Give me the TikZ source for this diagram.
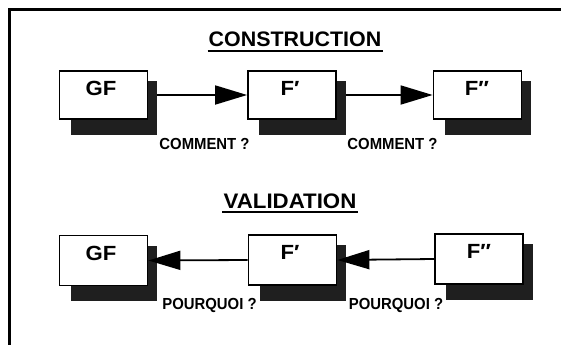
\documentclass[tikz,border=0pt]{standalone}
\usepackage{fontspec}
\setmainfont{Liberation Sans}
\usepackage{graphicx}
\usetikzlibrary{arrows.meta,calc,backgrounds}

\tikzset{
  funcbox/.style={draw=black, line width=1.8pt, fill=white, minimum width=88pt,
    minimum height=48pt, inner sep=0pt},
  boxlabel/.style={font=\bfseries\fontsize{20.5}{20.5}\selectfont, inner sep=0pt, anchor=base},
  heading/.style={font=\bfseries\fontsize{21}{21}\selectfont, inner sep=0pt, anchor=base},
  question/.style={font=\bfseries\fontsize{16}{16}\selectfont, inner sep=0pt},
  flow/.style={line width=1.8pt, -{Triangle[length=32pt,width=19pt]}},
  shadowfill/.style={fill=black!88},
}

\newcommand{\dropshadow}[1]{%
  \fill[shadowfill] ($(#1.north east)+(-1,11)$) rectangle ($(#1.south east)+(9,15)$);
  \fill[shadowfill] ($(#1.south west)+(12,-1)$) rectangle ($(#1.south east)+(9,15)$);
}

\begin{document}
\begin{tikzpicture}[x=1pt,y=-1pt]
  \useasboundingbox (0,0) rectangle (561,345);

  % frame
  \draw[line width=3pt] (561,10) -- (9.5,10) -- (9.5,345);

  % headings
  \node[heading] (hcons) at (295,47) {\scalebox{1.02}[1]{CONSTRUCTION}};
  \draw[line width=1.8pt] ($(hcons.base west)+(-1,4)$) -- ($(hcons.base east)+(2,4)$);
  \node[heading] (hvalid) at (290,208) {\scalebox{1.06}[1]{VALIDATION}};
  \draw[line width=1.8pt] ($(hvalid.base west)+(-1,4)$) -- ($(hvalid.base east)+(1,4)$);

  % construction row
  \node[funcbox] (cgf) at (103.5,95) {};
  \node[funcbox] (cf1) at (292,95) {};
  \node[funcbox] (cf2) at (477.5,95) {};
  \node[boxlabel] (lcgf) at (101,95.5) {\scalebox{1.08}[1]{GF}};
  \node[boxlabel] (lcf1) at (290,95.5) {\scalebox{1.08}[1]{F′}};
  \node[boxlabel] (lcf2) at (477,95.5) {\scalebox{1.08}[1]{F″}};

  % validation row
  \node[funcbox, minimum height=50pt] (vgf) at (103.5,260.5) {};
  \node[funcbox, minimum height=50pt] (vf1) at (292.5,260) {};
  \node[funcbox, minimum height=50pt] (vf2) at (479,259) {};
  \node[boxlabel] (lvgf) at (101,260.5) {\scalebox{1.08}[1]{GF}};
  \node[boxlabel] (lvf1) at (290,259.5) {\scalebox{1.08}[1]{F′}};
  \node[boxlabel] (lvf2) at (479,258.5) {\scalebox{1.08}[1]{F″}};

  \begin{scope}[on background layer]
    \fill[white] (0,0) rectangle (561,345);
    \dropshadow{cgf}
    \dropshadow{cf1}
    \dropshadow{cf2}
    \dropshadow{vgf}
    \dropshadow{vf1}
    \dropshadow{vf2}
  \end{scope}

  % shadow edges where the forward arrows start
  \coordinate (cgfs) at ($(cgf.east)+(9,0)$);
  \coordinate (cf1s) at ($(cf1.east)+(9,0)$);

  % arrows
  \draw[flow] (cgfs) -- (cf1.west);
  \draw[flow] (cf1s) -- (cf2.west);
  \draw[flow] (vf2.west) -- (vf1.east);
  \draw[flow] (vf1.west) -- (vgf.east);

  % questions
  \node[question] (q1) at (204.5,144) {\scalebox{0.93}[1]{COMMENT ?}};
  \node[question] (q2) at (392.5,144) {\scalebox{0.93}[1]{COMMENT ?}};
  \node[question] (q3) at (209.5,305) {\scalebox{0.93}[1]{POURQUOI ?}};
  \node[question] (q4) at (396,305) {\scalebox{0.93}[1]{POURQUOI ?}};
\end{tikzpicture}
\end{document}
